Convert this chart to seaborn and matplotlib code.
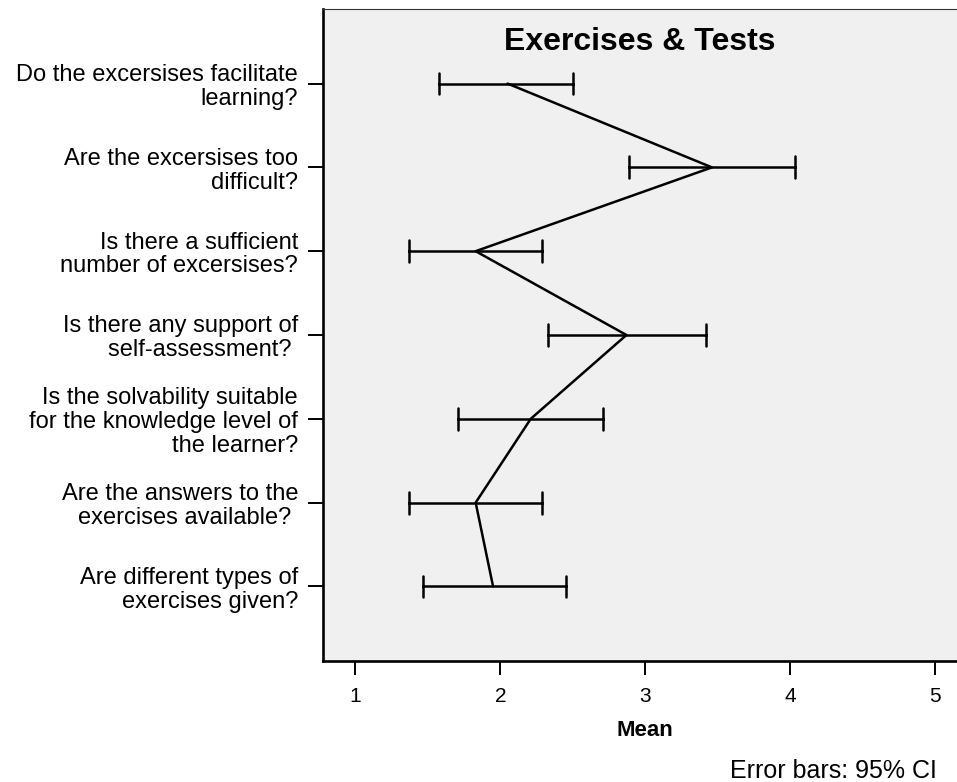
import numpy as np
import pandas as pd
import matplotlib
matplotlib.use("Agg")
import matplotlib.pyplot as plt
import seaborn as sns

# survey questions (top to bottom)
questions = [
    "Do the excersises facilitate\nlearning?",
    "Are the excersises too\ndifficult?",
    "Is there a sufficient\nnumber of excersises?",
    "Is there any support of\nself-assessment? ",
    "Is the solvability suitable\nfor the knowledge level of\nthe learner?",
    "Are the answers to the\nexercises available? ",
    "Are different types of\nexercises given?",
]
# means and 95% CI bounds
mean_vals = [2.05, 3.46, 1.83, 2.87, 2.21, 1.83, 1.95]
ci_low = [1.58, 2.89, 1.37, 2.33, 1.71, 1.37, 1.47]
ci_high = [2.50, 4.03, 2.29, 3.42, 2.71, 2.29, 2.45]

# long form: middle value is the mean, min/max give the CI
df = pd.DataFrame({
    "question": np.repeat(questions, 3),
    "value": np.column_stack([ci_low, mean_vals, ci_high]).ravel(),
})

sns.set_theme(style="ticks", rc={
    "text.color": "black", "axes.labelcolor": "black",
    "xtick.color": "black", "ytick.color": "black",
})
plt.rcParams["font.family"] = ["Liberation Sans", "DejaVu Sans"]

fig = plt.figure(figsize=(9.57, 7.82), dpi=100)
ax = fig.add_axes([323 / 957, 1 - 661 / 782, 1 - 323 / 957, (661 - 9) / 782])
ax.set_facecolor("#f0f0f0")

sns.pointplot(
    data=df, x="value", y="question", order=questions, orient="h",
    estimator="median", errorbar=lambda v: (v.min(), v.max()),
    color="black", markers="", linewidth=1.8, capsize=0.26,
    err_kws={"linewidth": 1.8}, ax=ax,
)

ax.set_xlim(0.777, 5.15)
ax.set_ylim(6.89, -0.89)
ax.set_xticks([1, 2, 3, 4, 5])
ax.set_xlabel("")
ax.set_ylabel("")

for side in ["left", "bottom"]:
    ax.spines[side].set_linewidth(1.9)
    ax.spines[side].set_color("black")
ax.spines["top"].set_linewidth(0.8)
ax.spines["top"].set_color("#333333")
ax.spines["right"].set_visible(False)

ax.tick_params(axis="y", length=11, width=1.4, pad=7, labelsize=17)
ax.tick_params(axis="x", length=10, width=1.4, pad=9, labelsize=15)
for t in ax.get_yticklabels():
    t.set_linespacing(1.1)

ax.text(0.5, 0.949, "Exercises & Tests", transform=ax.transAxes,
        ha="center", va="center", fontsize=23, fontweight="bold")
fig.text(645 / 957, 1 - 731 / 782, "Mean", ha="center", va="center",
         fontsize=16, fontweight="bold")
fig.text(937 / 957, 1 - 771 / 782, "Error bars: 95% CI", ha="right",
         va="center", fontsize=18)

fig.savefig("out.png", dpi=100)
